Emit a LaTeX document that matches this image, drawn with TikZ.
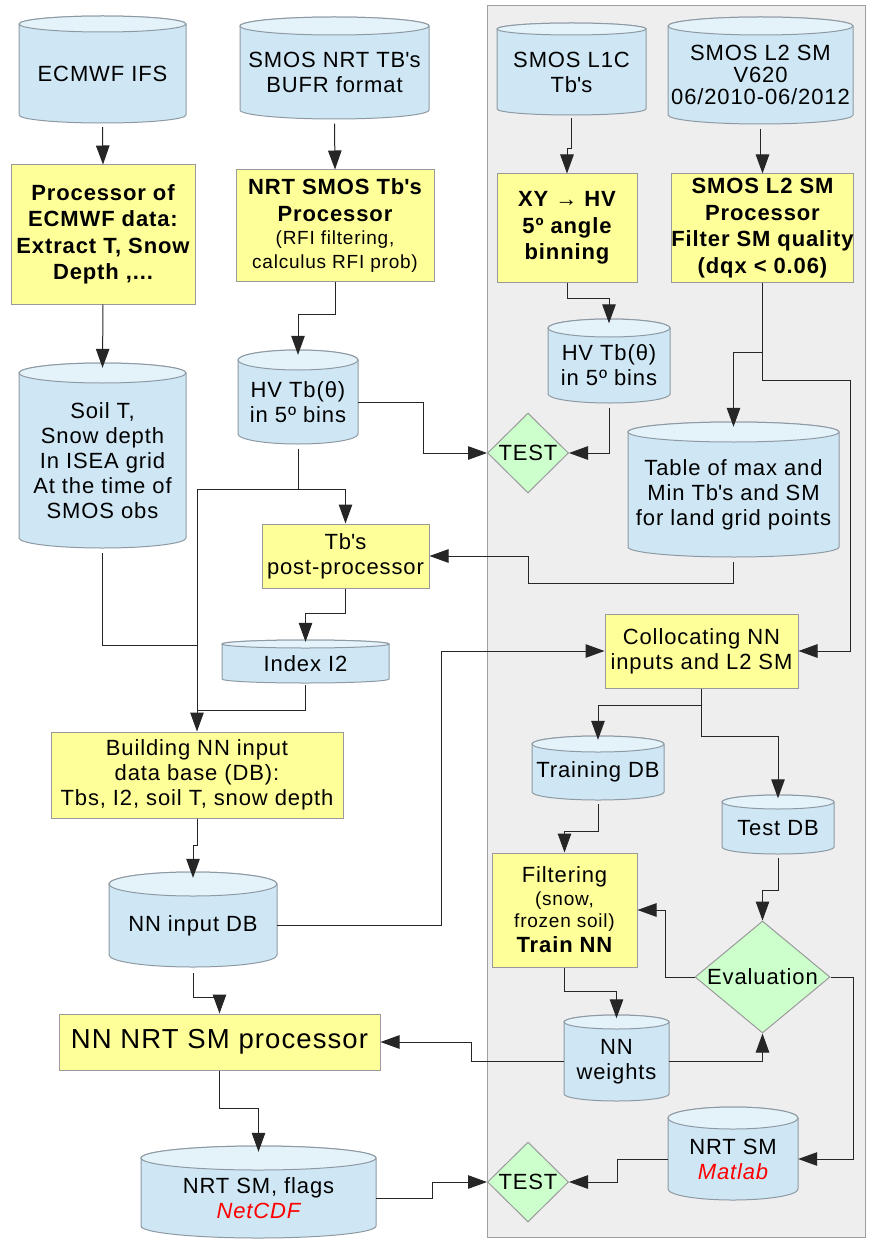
\documentclass[tikz,border=0pt]{standalone}
\usepackage{fontspec}
\setmainfont{Liberation Sans}[LetterSpace=4]
\usetikzlibrary{arrows.meta,shapes.geometric,calc}
\definecolor{cBody}{HTML}{CFE7F5}
\definecolor{cTop}{HTML}{E4F2FA}
\definecolor{cLine}{HTML}{8E9AA3}
\definecolor{cYellow}{HTML}{FFFF99}
\definecolor{cGreen}{HTML}{CCFFCC}
\definecolor{cBoxLine}{HTML}{9A9A9A}
\definecolor{cPanel}{HTML}{EEEEEE}
\definecolor{cPanelLine}{HTML}{A0A0A0}
\newcommand\dgReg{\fontsize{22}{25}\selectfont}
\newcommand\dgBold{\fontsize{22}{26.5}\selectfont\bfseries}
\newcommand\dgSmall{\fontsize{19}{22.5}\selectfont\mdseries}
\newcommand\dgBig{\fontsize{27.5}{30}\selectfont}
\newcommand\aq{\textquotesingle}
\tikzset{
  cylside/.style={fill=cBody, draw=cLine, line width=1pt},
  cyltopst/.style={fill=cTop, draw=cLine, line width=1pt},
  cyltext/.style={rectangle, inner sep=0pt, align=center, font=\dgReg},
  procbox/.style={rectangle, fill=cYellow, draw=cBoxLine, line width=1pt, align=center, inner sep=0pt, font=\dgReg},
  decbox/.style={diamond, aspect=1.2, fill=cGreen, draw=cBoxLine, line width=1pt, inner sep=0pt, align=center, font=\dgReg},
  conn/.style={draw=black!85, line width=1pt},
  arr/.style={conn, -{Triangle[length=19pt,width=13.5pt]}},
  panelbox/.style={rectangle, fill=cPanel, draw=cPanelLine, line width=1pt, inner sep=0pt},
}
% #1 ry, #2 name, #3 x1, #4 y1, #5 x2, #6 y2, #7 text
\newcommand\dbcyl[7][8]{%
  \pgfmathsetmacro\dbrx{(#5-#3)/2}%
  \pgfmathsetmacro\dbcx{(#5+#3)/2}%
  \pgfmathsetmacro\dbcy{(#6+#4)/2}%
  \pgfmathsetmacro\dbw{#5-#3}%
  \pgfmathsetmacro\dbh{#6-#4}%
  \filldraw[cylside] (#3,#4+#1) -- (#3,#6-#1)
     arc[start angle=180,end angle=360,x radius=\dbrx pt,y radius=#1 pt]
     -- (#5,#4+#1)
     arc[start angle=0,end angle=180,x radius=\dbrx pt,y radius=#1 pt] -- cycle;
  \filldraw[cyltopst] (\dbcx,#4+#1) ellipse[x radius=\dbrx pt,y radius=#1 pt];
  \node[cyltext,minimum width=\dbw pt,minimum height=\dbh pt] (#2) at (\dbcx,\dbcy+#1/2) {#7};
}
\begin{document}
\begin{tikzpicture}[x=1pt,y=-1pt]
\useasboundingbox (0,0) rectangle (868,1241);
% gray panel
\node[panelbox, minimum width=378pt, minimum height=1231pt] (panel) at (676,621.5) {};

% cylinders
\dbcyl[8]{ecmwf}{19}{16}{186}{123}{ECMWF IFS}
\dbcyl[9]{nrttb}{240}{17}{429}{119}{SMOS NRT TB\aq s\\BUFR format}
\dbcyl[6]{l1c}{497}{23}{646}{115}{SMOS L1C\\Tb\aq s}
\dbcyl[9]{l2sm}{668}{17}{853}{124}{SMOS L2 SM\\[-3pt]V620\\[-3pt]06/2010-06/2012}
\dbcyl[10]{soil}{19}{363}{186}{548}{Soil T,\\Snow depth\\In ISEA grid\\At the time of\\SMOS obs}
\dbcyl[10]{hvl}{238}{350}{358}{444}{HV Tb(θ)\\in 5º bins}
\dbcyl[9]{hvr}{548}{319}{670}{403}{HV Tb(θ)\\in 5º bins}
\dbcyl[10]{table}{628}{422}{839}{557}{Table of max and\\Min Tb\aq s and SM\\for land grid points}
\dbcyl[4]{idx}{222}{640}{389}{683}{Index I2}
\dbcyl[12]{nndb}{109}{872}{277}{967}{NN input DB}
\dbcyl[12]{nrtsm}{141}{1146}{376}{1238}{NRT SM, flags\\\color{red}\itshape NetCDF}
\dbcyl[8]{train}{532}{736}{664}{800}{Training DB}
\dbcyl[7]{testdb}{722}{795}{834}{854}{Test DB}
\dbcyl[7]{nnw}{564}{1015}{669}{1101}{NN\\weights}
\dbcyl[11]{matlab}{668}{1107}{798}{1200}{NRT SM\\\color{red}\itshape Matlab}

% process boxes
\node[procbox, minimum width=184pt, minimum height=139pt, font=\dgBold] (procE) at (103,234.5)
  {Processor of\\ECMWF data:\\Extract T, Snow\\Depth ,...};
\node[procbox, minimum width=198pt, minimum height=111pt, font=\dgBold] (nrtproc) at (335,225.5)
  {NRT SMOS Tb\aq s\\Processor\\[-3pt]\dgSmall (RFI filtering,\\[-3pt]\dgSmall calculus RFI prob)};
\node[procbox, minimum width=140pt, minimum height=108pt, font=\dgBold] (xyhv) at (567,228)
  {XY → HV\\5º angle\\binning};
\node[procbox, minimum width=181pt, minimum height=108pt, font=\dgBold] (l2proc) at (762.5,228)
  {SMOS L2 SM\\Processor\\Filter SM quality\\(dqx < 0.06)};
\node[procbox, minimum width=167pt, minimum height=64pt] (postp) at (345.5,556)
  {Tb\aq s\\post-processor};
\node[procbox, minimum width=193pt, minimum height=74pt] (coll) at (701.5,651)
  {Collocating NN\\inputs and L2 SM};
\node[procbox, minimum width=292pt, minimum height=86pt] (build) at (197,775)
  {Building NN input\\data base (DB):\\Tbs, I2, soil T, snow depth};
\node[procbox, minimum width=321pt, minimum height=56pt, font=\dgBig] (nnproc) at (219.5,1042)
  {NN NRT SM processor};
\node[procbox, minimum width=145pt, minimum height=114pt] (filt) at (564.5,910)
  {Filtering\\[-2pt]\dgSmall (snow,\\[-3pt]\dgSmall frozen soil)\\\dgBold Train NN};

% decisions
\node[decbox, minimum width=81pt, minimum height=80pt] (test1) at (528,453) {TEST};
\node[decbox, minimum width=135pt, minimum height=112pt] (eval) at (762.5,977) {Evaluation};
\node[decbox, minimum width=81pt, minimum height=80pt] (test2) at (528,1182) {TEST};

% connectors
\draw[arr] (ecmwf.south) -- (procE.north);
\draw[arr] (nrttb.south) -- (nrtproc.north);
\draw[arr] (l1c.south) -- ++(0,30) -| (xyhv.north);
\draw[arr] (l2sm.south) -- ++(0,27) -| (l2proc.north);
\draw[arr] (procE.south) -- (soil.north);
\draw[arr] (nrtproc.south) -- ++(0,33) -| (hvl.north);
\draw[arr] (xyhv.south) -- ++(0,16) -| (hvr.north);
\draw[arr] (l2proc.south) -- ++(0,98) -- ++(88,0) |- (coll.east);
\draw[arr] ([yshift=-70pt]l2proc.south) -| (table.north);
\draw[arr] (hvl.east) -- ++(65,0) |- (test1.west);
\draw[arr] (hvr.south) |- (test1.east);
\draw[arr] (hvl.south) -- ++(0,40) -| (postp.north);
\draw[arr] ([yshift=-40pt]hvl.south) -| (build.north);
\draw[conn] (soil.south) -- ++(0,92) -| ([yshift=40pt]build.north);
\draw[conn] (idx.south) -- ++(0,25) -| ([yshift=20pt]build.north);
\draw[arr] (table.south) -- ++(0,21) -- ++(-205,0) |- (postp.east);
\draw[arr] (postp.south) -- ++(0,25) -| (idx.north);
\draw[arr] (nndb.east) -- ++(164,0) |- (coll.west);
\draw[arr] (build.south) -- ++(0,27) -| (nndb.north);
\draw[arr] (nndb.south) -- ++(0,24) -| (nnproc.north);
\draw[arr] (nnproc.south) -- ++(0,38) -| (nrtsm.north);
\draw[arr] (nrtsm.east) -- ++(56,0) |- (test2.west);
\draw[arr] (coll.south) -- ++(0,17) -| (train.north);
\draw[arr] (coll.south) -- ++(0,48) -| (testdb.north);
\draw[arr] (train.south) -- ++(0,27) -| (filt.north);
\draw[arr] (testdb.south) -- ++(0,33) -| (eval.north);
\draw[arr] (eval.west) -- ++(-29,0) |- (filt.east);
\draw[arr] (filt.south) -- ++(0,24) -| (nnw.north);
\draw[arr] (nnw.west) -- ++(-92,0) |- (nnproc.east);
\draw[arr] (nnw.east) -| (eval.south);
\draw[arr] (eval.east) -- ++(23,0) |- (matlab.east);
\draw[arr] (matlab.west) -- ++(-50,0) |- (test2.east);
\end{tikzpicture}
\end{document}
